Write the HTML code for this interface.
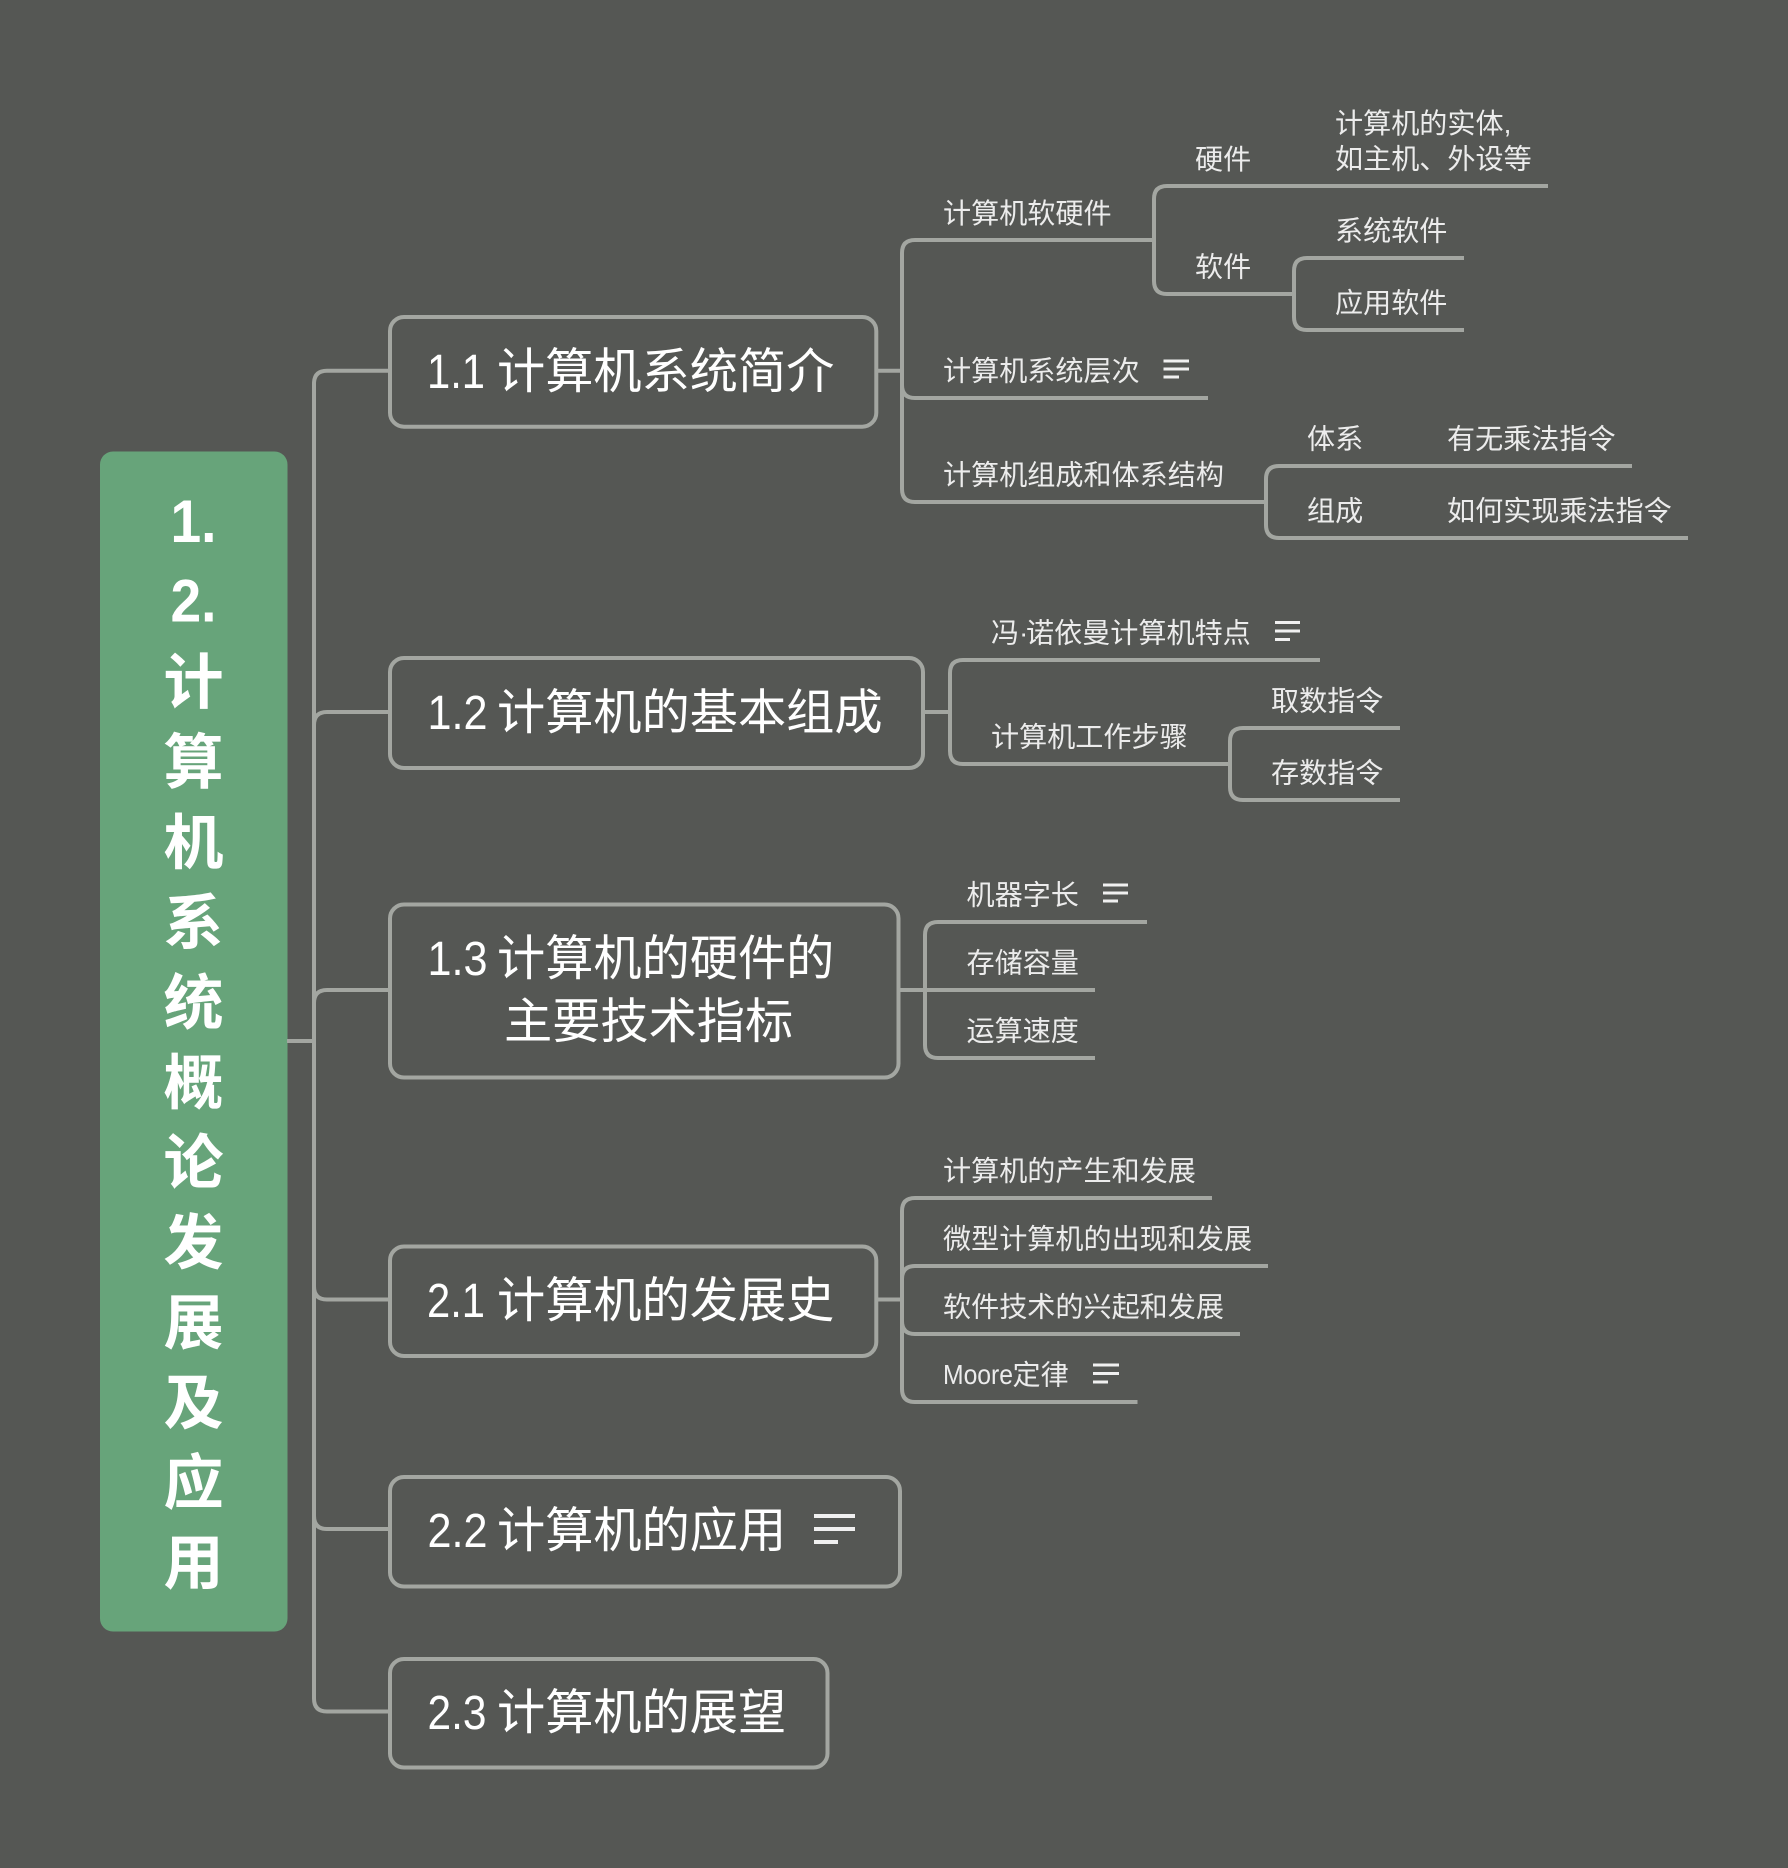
<!DOCTYPE html>
<html><head><meta charset="utf-8"><style>
html,body{margin:0;padding:0;background:#555754}
svg{display:block}
text{font-family:"Liberation Sans","Noto Sans CJK SC",sans-serif;}
.m{font-size:48.2px;fill:#fff}
.s{font-size:28.1px;fill:#ececec}
.r{font-size:60px;fill:#fff;font-weight:700;text-anchor:middle}
.l{stroke:#a3a6a1;stroke-width:4;fill:none}
.i{stroke:#f0f0f0;stroke-width:3;fill:none}
</style></head><body>
<svg width="1788" height="1868" viewBox="0 0 1788 1868" xmlns="http://www.w3.org/2000/svg">
<rect width="1788" height="1868" fill="#555754"/>
<rect x="100" y="451.500" width="187.500" height="1180" rx="13" fill="#67a47a"/>
<text class="r" x="193.500" y="542" textLength="46" lengthAdjust="spacingAndGlyphs">1.</text>
<text class="r" x="193.500" y="621.500" textLength="46" lengthAdjust="spacingAndGlyphs">2.</text>
<text class="r" x="193.500" y="703.500">计</text>
<text class="r" x="193.500" y="783.500">算</text>
<text class="r" x="193.500" y="864">机</text>
<text class="r" x="193.500" y="944">系</text>
<text class="r" x="193.500" y="1024">统</text>
<text class="r" x="193.500" y="1104">概</text>
<text class="r" x="193.500" y="1184">论</text>
<text class="r" x="193.500" y="1264">发</text>
<text class="r" x="193.500" y="1344">展</text>
<text class="r" x="193.500" y="1424">及</text>
<text class="r" x="193.500" y="1504">应</text>
<text class="r" x="193.500" y="1584">用</text>

<g class="l">
<path d="M287 1041H314"/>
<path d="M389 370.700H327Q314 370.700 314 383.700V1698.500Q314 1711.500 327 1711.500H389"/>
<path d="M389 712H327Q314 712 314 725"/>
<path d="M389 990H327Q314 990 314 1003"/>
<path d="M314 1286.500Q314 1299.500 327 1299.500H389"/>
<path d="M314 1516Q314 1529 327 1529H389"/>

<rect x="390" y="317" width="486.300" height="109.700" rx="14"/>
<rect x="390" y="658" width="533" height="110" rx="14"/>
<rect x="390" y="904.500" width="508.500" height="173" rx="14"/>
<rect x="390" y="1246.500" width="486.300" height="109.500" rx="14"/>
<rect x="390" y="1477" width="510" height="109.500" rx="14"/>
<rect x="390" y="1659" width="437.500" height="108.500" rx="14"/>

<!-- 1.1 -->
<path d="M876 370.700H902"/>
<path d="M1153 240H915Q902 240 902 253V489Q902 502 915 502H1266"/>
<path d="M902 385Q902 398 915 398H1208"/>
<path d="M1548 186H1167Q1154 186 1154 199V281Q1154 294 1167 294H1294"/>
<path d="M1464 258H1307Q1294 258 1294 271V317Q1294 330 1307 330H1464"/>
<path d="M1632 466H1279Q1266 466 1266 479V525Q1266 538 1279 538H1688"/>

<!-- 1.2 -->
<path d="M923 712H950"/>
<path d="M1320 660H963Q950 660 950 673V751Q950 764 963 764H1230"/>
<path d="M1400 728H1243Q1230 728 1230 741V787Q1230 800 1243 800H1400"/>

<!-- 1.3 -->
<path d="M898 990H1095"/>
<path d="M1147 922H938Q925 922 925 935V1045Q925 1058 938 1058H1095"/>

<!-- 2.1 -->
<path d="M876 1299.500H902"/>
<path d="M1212 1198H915Q902 1198 902 1211V1389Q902 1402 915 1402H1137.500"/>
<path d="M1268 1266H915Q902 1266 902 1279"/>
<path d="M902 1321Q902 1334 915 1334H1240"/>
</g>

<!-- main labels -->
<text class="m" x="427" y="388" textLength="58" lengthAdjust="spacingAndGlyphs">1.1</text><text class="m" x="497" y="388">计算机系统简介</text>
<text class="m" x="427.500" y="729" textLength="60" lengthAdjust="spacingAndGlyphs">1.2</text><text class="m" x="497" y="729">计算机的基本组成</text>
<text class="m" x="427.500" y="975" textLength="60" lengthAdjust="spacingAndGlyphs">1.3</text><text class="m" x="497" y="975">计算机的硬件的</text>
<text class="m" x="504" y="1038">主要技术指标</text>
<text class="m" x="427" y="1317" textLength="58" lengthAdjust="spacingAndGlyphs">2.1</text><text class="m" x="497" y="1317">计算机的发展史</text>
<text class="m" x="427.500" y="1547" textLength="60" lengthAdjust="spacingAndGlyphs">2.2</text><text class="m" x="497" y="1547">计算机的应用</text>
<text class="m" x="427.500" y="1729" textLength="59" lengthAdjust="spacingAndGlyphs">2.3</text><text class="m" x="497" y="1729">计算机的展望</text>

<!-- sub labels -->
<text class="s" x="943" y="223">计算机软硬件</text>
<text class="s" x="1195" y="169">硬件</text>
<text class="s" x="1335" y="133">计算机的实体,</text>
<text class="s" x="1335" y="168.500">如主机、外设等</text>
<text class="s" x="1195" y="276.500">软件</text>
<text class="s" x="1335" y="240.500">系统软件</text>
<text class="s" x="1335" y="312.500">应用软件</text>
<text class="s" x="943" y="380.500">计算机系统层次</text>
<text class="s" x="943" y="484.500">计算机组成和体系结构</text>
<text class="s" x="1307" y="448.500">体系</text>
<text class="s" x="1447" y="448.500">有无乘法指令</text>
<text class="s" x="1307" y="520.500">组成</text>
<text class="s" x="1447" y="520.500">如何实现乘法指令</text>

<text class="s" x="991" y="642.500">冯<tspan x="1019">·</tspan><tspan x="1026">诺依曼计算机特点</tspan></text>
<text class="s" x="991" y="746.500">计算机工作步骤</text>
<text class="s" x="1271" y="710.500">取数指令</text>
<text class="s" x="1271" y="782.500">存数指令</text>

<text class="s" x="966.500" y="904.500">机器字长</text>
<text class="s" x="966.500" y="972.500">存储容量</text>
<text class="s" x="966.500" y="1040.500">运算速度</text>

<text class="s" x="943" y="1180.500">计算机的产生和发展</text>
<text class="s" x="943" y="1248.500">微型计算机的出现和发展</text>
<text class="s" x="943" y="1316.500">软件技术的兴起和发展</text>
<text class="s" x="943" y="1384" textLength="70" lengthAdjust="spacingAndGlyphs">Moore</text><text class="s" x="1012.500" y="1384.500">定律</text>

<!-- note icons -->
<path class="i" d="M1163.500 361H1189M1163.500 369H1189M1163.500 377H1179"/>
<path class="i" d="M1275 622.500H1300M1275 631H1300M1275 639.500H1290"/>
<path class="i" d="M1103 885H1128M1103 893H1128M1103 901H1118"/>
<path class="i" d="M1093 1365H1119M1093 1373.500H1119M1093 1382H1108"/>
<path class="i" style="stroke-width:4" d="M814 1516H855M814 1529H855M814 1542H838"/>
</svg>
</body></html>
